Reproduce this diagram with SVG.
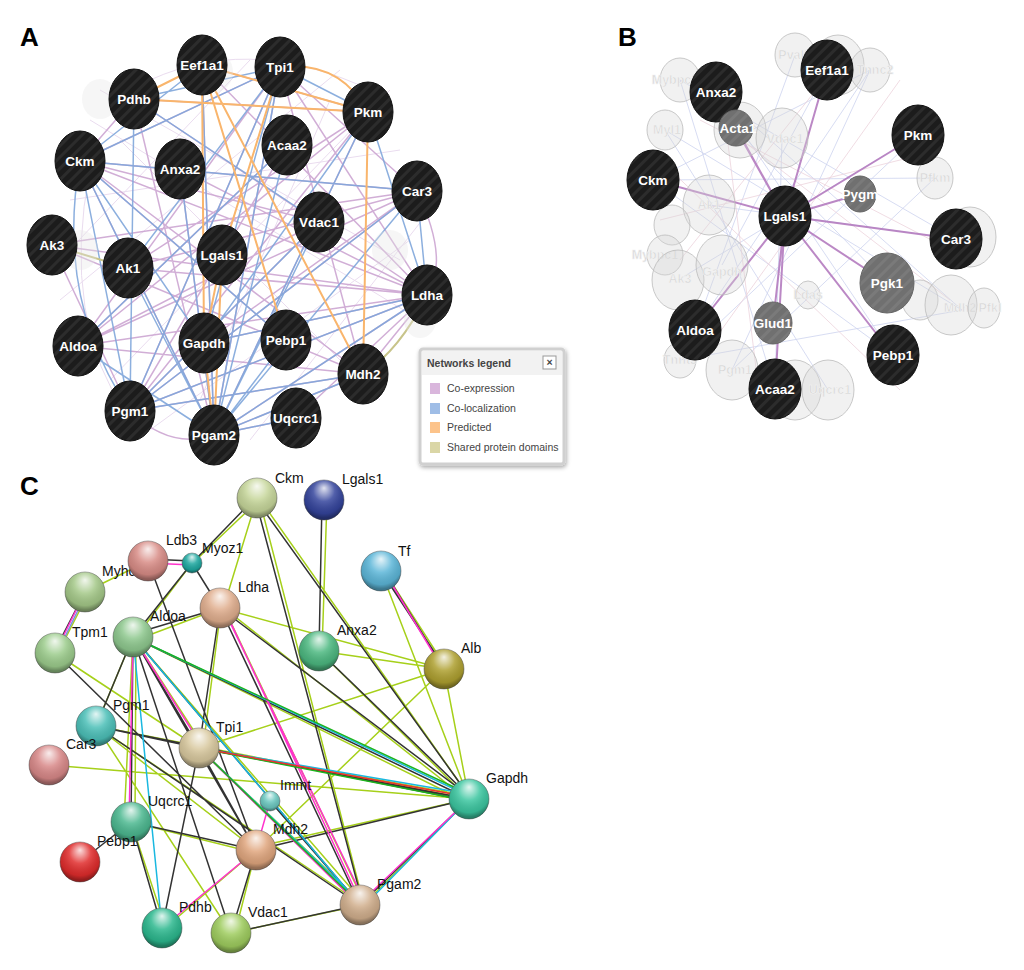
<svg xmlns="http://www.w3.org/2000/svg" width="1024" height="970" viewBox="0 0 1024 970">
<defs>
<pattern id="str" width="8" height="8" patternUnits="userSpaceOnUse" patternTransform="rotate(45)">
<rect width="8" height="8" fill="#1c1c1c"/><rect width="3" height="8" fill="#2c2c2c"/>
</pattern>
<pattern id="strg" width="8" height="8" patternUnits="userSpaceOnUse" patternTransform="rotate(45)">
<rect width="8" height="8" fill="#707070"/><rect width="3" height="8" fill="#7a7a7a"/>
</pattern>
<radialGradient id="shine" cx="50%" cy="35%" r="60%" fx="50%" fy="20%">
<stop offset="0" stop-color="#fff" stop-opacity="0.85"/>
<stop offset="0.45" stop-color="#fff" stop-opacity="0.15"/>
<stop offset="0.85" stop-color="#000" stop-opacity="0.1"/>
<stop offset="1" stop-color="#000" stop-opacity="0.35"/>
</radialGradient>
<filter id="sh" x="-10%" y="-10%" width="130%" height="130%"><feDropShadow dx="1" dy="2" stdDeviation="2" flood-opacity="0.35"/></filter>
</defs>
<style>
.lab{font-family:"Liberation Sans",Arial,sans-serif;font-size:26px;font-weight:bold;fill:#000}
.nt{font-family:"Liberation Sans",Arial,sans-serif;font-size:13.5px;font-weight:bold;fill:#fff;text-anchor:middle;dominant-baseline:central}
.gt{font-family:"Liberation Sans",Arial,sans-serif;font-size:12.5px;font-weight:bold;fill:#d6d6d6;stroke:#f4f4f4;stroke-width:0.6;text-anchor:middle;dominant-baseline:central}
.bn{fill:url(#str);stroke:#111;stroke-width:1}
.gn{fill:#d8d8d8;fill-opacity:0.35;stroke:#bbb;stroke-opacity:0.8;stroke-width:1}
.gy{fill:url(#strg);stroke:#666;stroke-width:1}
.lt{font-family:"Liberation Sans",Arial,sans-serif;font-size:10.5px;fill:#444}
.ct{font-family:"Liberation Sans",Arial,sans-serif;font-size:14px;fill:#111}
.ball{stroke:#555;stroke-opacity:0.5;stroke-width:1}
.sh{fill:url(#shine)}
.e{fill:none}
</style>
<rect width="1024" height="970" fill="#fff"/>
<text class="lab" x="20" y="46">A</text>
<text class="lab" x="618" y="46">B</text>
<text class="lab" x="20" y="495">C</text>

<g id="connectors">
<path class="e" stroke="#eadcef" stroke-width="1" d="M100 90 L400 260 M90 120 L420 320 M70 200 L400 150 M110 380 L390 90 M60 300 L340 70 M150 430 L410 240 M200 400 L330 100 M120 140 L380 400 M60 260 L250 60 M250 440 L430 210 M90 170 Q60 320 130 420 M150 80 Q260 30 390 100"/>
<path class="e" stroke="#c9a0cf" stroke-width="1.5" stroke-opacity="0.85" d="M280 67 L80 161 M280 67 L78 346 M280 67 L130 411 M280 67 L214 435 M280 67 L363 374 M280 67 L427 295 M280 67 L417 191 M202 65 L368 112 M202 65 L427 295 M202 65 L214 435 M134 99 L368 112 M134 99 L427 295 M134 99 L214 435 M368 112 L78 346 M368 112 L130 411 M368 112 L214 435 M368 112 L128 268 M80 161 L427 295 M80 161 L363 374 M80 161 L214 435 M80 161 L417 191 M80 161 L319 222 M180 169 L427 295 M180 169 L214 435 M417 191 L78 346 M417 191 L130 411 M417 191 L128 268 M417 191 L204 343 M427 295 L130 411 M427 295 L78 346 M427 295 L214 435 M427 295 L52 245 M52 245 L363 374 M52 245 L417 191 M78 346 L363 374 M130 411 L363 374 M214 435 L363 374 M214 435 L296 418 M287 145 L78 346 M287 145 L130 411 M319 222 L78 346 M319 222 L130 411 M128 268 L427 295 M204 343 L427 295 M286 340 L80 161 M130 411 Q170 450 214 435 M52 245 L130 411 M363 374 L427 295 M417 191 Q450 260 427 295 M80 161 L134 99 M296 418 L427 295"/>
<path class="e" stroke="#7fa6da" stroke-width="1.5" stroke-opacity="0.9" d="M280 67 L80 161 M280 67 L134 99 M280 67 L128 268 M280 67 L204 343 M280 67 L130 411 M280 67 L214 435 M280 67 L368 112 M202 65 L80 161 M202 65 L214 435 M134 99 L130 411 M134 99 L319 222 M80 161 L214 435 M80 161 L204 343 M80 161 L130 411 M80 161 L417 191 M80 161 L286 340 M417 191 L214 435 M417 191 L130 411 M417 191 L427 295 M427 295 L214 435 M427 295 L204 343 M427 295 L130 411 M287 145 L214 435 M287 145 L78 346 M319 222 L214 435 M319 222 L130 411 M368 112 L204 343 M368 112 L214 435 M128 268 L214 435 M78 346 L214 435 M80 161 Q55 300 130 411 M363 374 L214 435 M363 374 L130 411 M286 340 L214 435 M180 169 L214 435 M296 418 L214 435 M368 112 L427 295"/>
<path class="e" stroke="#f9b56c" stroke-width="2" d="M134 99 L202 65 M134 99 L368 112 M202 65 L368 112 M280 67 Q340 60 368 112 M202 65 L204 343 M202 65 L286 340 M202 65 L363 374 M280 67 L222 255 M368 112 L363 374 M222 255 L214 435 M204 343 L214 435 M222 255 L204 343"/>
<path class="e" stroke="#c8c48a" stroke-width="2" d="M52 245 L128 268 M427 295 Q400 350 363 374"/>
<path class="e" stroke="#cdd3ef" stroke-width="1" stroke-opacity="0.8" d="M680 80 L956 239 M665 130 L962 310 M716 92 L893 355 M653 180 L935 178 M678 280 L918 135 M695 330 L870 70 M732 370 L870 70 M828 390 L665 130 M775 389 L680 80 M962 310 L680 360 M709 205 L956 239 M722 265 L827 70 M795 55 L695 330 M680 360 L918 135 M653 180 L893 355 M736 129 L887 283 M782 138 L775 389 M962 310 L716 92 M870 70 L653 180 M935 178 L732 370"/>
<path class="e" stroke="#ecd3dc" stroke-width="1" stroke-opacity="0.8" d="M690 100 L950 300 M660 220 L940 150 M700 360 L900 80 M760 400 L720 80 M840 60 L680 260 M660 160 L900 390 M700 120 L970 260"/>
<path class="e" stroke="#b47bbf" stroke-width="2" stroke-opacity="0.9" d="M785 216 L716 92 M785 216 L827 70 M785 216 L918 135 M785 216 L653 180 M785 216 L860 194 M785 216 L956 239 M785 216 L887 283 M785 216 L893 355 M785 216 L773 323 M785 216 L695 330 M785 216 L775 389 M785 216 L736 129"/>
<g fill="none" stroke-width="1.5">
<path stroke="#a6d01a" d="M261 498 L196 560 M257 498 L224 606 M259 498 L364 905 M259 498 L471 799 M327 500 L322 651 M384 571 L447 669 M148 561 L85 592 M89 592 L58 653 M192 563 L136 637 M221 608 L136 640 M221 608 L203 748 M224 608 L364 902 M224 608 L469 801 M220 608 L444 669 M319 651 L444 669 M319 651 L469 799 M133 637 L469 803 M133 637 L203 745 M133 637 L363 902 M133 637 L96 726 M136 637 L135 822 M55 653 L199 748 M96 726 L469 799 M96 726 L256 850 M49 765 L469 799 M199 748 L444 669 M199 748 L469 796 M199 748 L364 905 M444 669 L256 850 M444 669 L469 799 M469 799 L256 847 M131 822 L256 853 M131 822 L166 928 M256 850 L165 928 M256 850 L235 933 M231 933 L362 905 M96 726 L231 933 M469 799 L360 908 M96 726 L360 903 M381 571 L469 799 M133 637 L124 822"/>
<path stroke="#333" d="M255 498 L192 563 M255 498 L364 908 M255 498 L469 796 M322 500 L319 651 M381 571 L444 667 M148 559 L192 561 M85 592 L55 650 M192 563 L133 637 M192 563 L220 608 M148 561 L256 850 M220 608 L133 634 M220 608 L199 748 M220 608 L360 905 M220 608 L469 796 M319 651 L469 796 M133 637 L469 799 M133 637 L199 748 M133 637 L360 905 M133 637 L131 822 M133 637 L231 933 M133 637 L256 850 M55 653 L256 850 M96 726 L199 748 M96 726 L360 905 M199 748 L469 799 M199 748 L360 905 M199 748 L256 850 M270 801 L360 905 M469 799 L360 905 M469 799 L256 850 M131 822 L256 850 M131 822 L162 928 M131 822 L80 862 M256 850 L231 933 M231 933 L360 905 M96 726 L469 801 M384 571 L444 669 M199 748 L162 928 M133 637 L96 726"/>
<path stroke="#19b8e0" d="M133 637 L469 796 M133 637 L360 905 M133 637 L162 928 M199 748 L469 794 M199 748 L360 902 M469 799 L362 908"/>
<path stroke="#ff33cc" d="M148 563 L192 565 M85 592 L55 653 M384 571 L444 671 M224 608 L362 905 M133 637 L203 748 M199 748 L362 908 M270 801 L256 850 M469 799 L358 905 M256 850 L162 928 M133 637 L129 822 M223 608 L364 900"/>
<path stroke="#7a8ae0" d="M87 592 L57 653"/>
<path stroke="#1db31d" d="M133 637 L469 794 M199 748 L469 801 M199 748 L364 908"/>
<path stroke="#ee3030" d="M199 748 L469 797"/>
</g>
</g>

<g id="panelA-nodes">
<g id="A-ghosts" fill="#e4e4e4" fill-opacity="0.35">
<ellipse cx="215" cy="72" rx="18" ry="20"/><ellipse cx="100" cy="99" rx="18" ry="20"/><ellipse cx="80" cy="250" rx="18" ry="20"/><ellipse cx="390" cy="250" rx="18" ry="20"/><ellipse cx="420" cy="320" rx="16" ry="18"/>
</g>
<g id="nA-Eef1a1"><ellipse class="bn" cx="202" cy="65" rx="25" ry="30"/><text class="nt" x="202" y="65">Eef1a1</text></g>
<g id="nA-Tpi1"><ellipse class="bn" cx="280" cy="67" rx="25" ry="30"/><text class="nt" x="280" y="67">Tpi1</text></g>
<g id="nA-Pdhb"><ellipse class="bn" cx="134" cy="99" rx="25" ry="30"/><text class="nt" x="134" y="99">Pdhb</text></g>
<g id="nA-Pkm"><ellipse class="bn" cx="368" cy="112" rx="25" ry="30"/><text class="nt" x="368" y="112">Pkm</text></g>
<g id="nA-Acaa2"><ellipse class="bn" cx="287" cy="145" rx="25" ry="30"/><text class="nt" x="287" y="145">Acaa2</text></g>
<g id="nA-Ckm"><ellipse class="bn" cx="80" cy="161" rx="25" ry="30"/><text class="nt" x="80" y="161">Ckm</text></g>
<g id="nA-Anxa2"><ellipse class="bn" cx="180" cy="169" rx="25" ry="30"/><text class="nt" x="180" y="169">Anxa2</text></g>
<g id="nA-Car3"><ellipse class="bn" cx="417" cy="191" rx="25" ry="30"/><text class="nt" x="417" y="191">Car3</text></g>
<g id="nA-Vdac1"><ellipse class="bn" cx="319" cy="222" rx="25" ry="30"/><text class="nt" x="319" y="222">Vdac1</text></g>
<g id="nA-Ak3"><ellipse class="bn" cx="52" cy="245" rx="25" ry="30"/><text class="nt" x="52" y="245">Ak3</text></g>
<g id="nA-Ak1"><ellipse class="bn" cx="128" cy="268" rx="25" ry="30"/><text class="nt" x="128" y="268">Ak1</text></g>
<g id="nA-Lgals1"><ellipse class="bn" cx="222" cy="255" rx="25" ry="30"/><text class="nt" x="222" y="255">Lgals1</text></g>
<g id="nA-Ldha"><ellipse class="bn" cx="427" cy="295" rx="25" ry="30"/><text class="nt" x="427" y="295">Ldha</text></g>
<g id="nA-Aldoa"><ellipse class="bn" cx="78" cy="346" rx="25" ry="30"/><text class="nt" x="78" y="346">Aldoa</text></g>
<g id="nA-Gapdh"><ellipse class="bn" cx="204" cy="343" rx="25" ry="30"/><text class="nt" x="204" y="343">Gapdh</text></g>
<g id="nA-Pebp1"><ellipse class="bn" cx="286" cy="340" rx="25" ry="30"/><text class="nt" x="286" y="340">Pebp1</text></g>
<g id="nA-Mdh2"><ellipse class="bn" cx="363" cy="374" rx="25" ry="30"/><text class="nt" x="363" y="374">Mdh2</text></g>
<g id="nA-Pgm1"><ellipse class="bn" cx="130" cy="411" rx="25" ry="30"/><text class="nt" x="130" y="411">Pgm1</text></g>
<g id="nA-Pgam2"><ellipse class="bn" cx="214" cy="435" rx="25" ry="30"/><text class="nt" x="214" y="435">Pgam2</text></g>
<g id="nA-Uqcrc1"><ellipse class="bn" cx="296" cy="418" rx="25" ry="30"/><text class="nt" x="296" y="418">Uqcrc1</text></g>
</g>

<g id="legend">
<rect x="420" y="349" width="144" height="115" rx="3" fill="#fff" stroke="#d0d0d0" stroke-width="3" filter="url(#sh)"/>
<rect x="422" y="351" width="140" height="24" fill="#f2f2f2"/>
<text class="lt" x="427" y="367" font-weight="bold" fill="#555">Networks legend</text>
<rect x="543" y="356" width="13" height="13" fill="#fff" stroke="#999"/>
<text class="lt" x="549.5" y="366" text-anchor="middle" font-weight="bold" font-size="10px">×</text>
<rect x="430" y="383" width="10" height="11" fill="#d9b6dc"/><text class="lt" x="447" y="392">Co-expression</text>
<rect x="430" y="403" width="10" height="11" fill="#9fbde6"/><text class="lt" x="447" y="412">Co-localization</text>
<rect x="430" y="422" width="10" height="11" fill="#fcc38a"/><text class="lt" x="447" y="431">Predicted</text>
<rect x="430" y="442" width="10" height="11" fill="#dad6a6"/><text class="lt" x="447" y="451">Shared protein domains</text>
</g>

<g id="panelB-nodes">
<g id="B-ghosts">
<ellipse class="gn" cx="795" cy="55" rx="20" ry="22"/><text class="gt" x="795" y="55">Pvalb</text>
<ellipse class="gn" cx="838" cy="65" rx="26" ry="30"/>
<ellipse class="gn" cx="870" cy="70" rx="20" ry="22"/><text class="gt" x="875" y="70">Tnnc2</text>
<ellipse class="gn" cx="680" cy="80" rx="20" ry="22"/><text class="gt" x="675" y="80">Mybpc2</text>
<ellipse class="gn" cx="665" cy="130" rx="18" ry="20"/><text class="gt" x="667" y="130">Myl1</text>
<ellipse class="gn" cx="740" cy="130" rx="26" ry="28"/>
<ellipse class="gn" cx="782" cy="138" rx="26" ry="30"/><text class="gt" x="785" y="139">Vdac1</text>
<ellipse class="gn" cx="935" cy="178" rx="18" ry="21"/><text class="gt" x="935" y="178">Pfkm</text>
<ellipse class="gn" cx="709" cy="205" rx="26" ry="30"/><text class="gt" x="709" y="205">Ak1</text>
<ellipse class="gn" cx="672" cy="225" rx="18" ry="20"/>
<ellipse class="gn" cx="665" cy="255" rx="18" ry="20"/><text class="gt" x="655" y="255">Mybpc1</text>
<ellipse class="gn" cx="678" cy="280" rx="26" ry="30"/><text class="gt" x="680" y="279">Ak3</text>
<ellipse class="gn" cx="722" cy="265" rx="26" ry="30"/><text class="gt" x="722" y="272">Gapdh</text>
<ellipse class="gn" cx="970" cy="237" rx="26" ry="30"/>
<ellipse class="gn" cx="920" cy="300" rx="18" ry="20"/>
<ellipse class="gn" cx="951" cy="305" rx="26" ry="30"/><text class="gt" x="960" y="308">Mdh2</text>
<ellipse class="gn" cx="984" cy="308" rx="16" ry="20"/><text class="gt" x="990" y="308">Pfkl</text>
<ellipse class="gn" cx="808" cy="295" rx="12" ry="14"/><text class="gt" x="808" y="295">Ldas</text>
<ellipse class="gn" cx="680" cy="360" rx="16" ry="18"/><text class="gt" x="680" y="360">Tnnt3</text>
<ellipse class="gn" cx="732" cy="370" rx="26" ry="30"/><text class="gt" x="735" y="370">Pgm1</text>
<ellipse class="gn" cx="795" cy="390" rx="26" ry="30"/>
<ellipse class="gn" cx="828" cy="390" rx="26" ry="30"/><text class="gt" x="830" y="390">Uqcrc1</text>
</g>
<g id="nB-Eef1a1"><ellipse class="bn" cx="827" cy="70" rx="26" ry="30"/><text class="nt" x="827" y="70">Eef1a1</text></g>
<g id="nB-Anxa2"><ellipse class="bn" cx="716" cy="92" rx="26" ry="30"/><text class="nt" x="716" y="92">Anxa2</text></g>
<g id="nB-Pkm"><ellipse class="bn" cx="918" cy="135" rx="26" ry="30"/><text class="nt" x="918" y="135">Pkm</text></g>
<g id="nB-Acta1"><ellipse class="gy" cx="736" cy="128" rx="17" ry="18"/><text class="nt" x="738" y="128">Acta1</text></g>
<g id="nB-Ckm"><ellipse class="bn" cx="653" cy="180" rx="26" ry="30"/><text class="nt" x="653" y="180">Ckm</text></g>
<g id="nB-Pygm"><ellipse class="gy" cx="860" cy="194" rx="16" ry="18"/><text class="nt" x="860" y="194">Pygm</text></g>
<g id="nB-Lgals1"><ellipse class="bn" cx="785" cy="216" rx="26" ry="30" stroke="#5fd3ee" stroke-width="3"/><text class="nt" x="785" y="216">Lgals1</text></g>
<g id="nB-Car3"><ellipse class="bn" cx="956" cy="239" rx="26" ry="30"/><text class="nt" x="956" y="239">Car3</text></g>
<g id="nB-Pgk1"><ellipse class="gy" cx="887" cy="283" rx="27" ry="30"/><text class="nt" x="887" y="283">Pgk1</text></g>
<g id="nB-Glud1"><ellipse class="gy" cx="773" cy="323" rx="19" ry="21"/><text class="nt" x="773" y="323">Glud1</text></g>
<g id="nB-Aldoa"><ellipse class="bn" cx="695" cy="330" rx="26" ry="30"/><text class="nt" x="695" y="330">Aldoa</text></g>
<g id="nB-Pebp1"><ellipse class="bn" cx="893" cy="355" rx="26" ry="30"/><text class="nt" x="893" y="355">Pebp1</text></g>
<g id="nB-Acaa2"><ellipse class="bn" cx="775" cy="389" rx="26" ry="30"/><text class="nt" x="775" y="389">Acaa2</text></g>
</g>

<g id="panelC-nodes">
<g id="nC-Ckm"><circle class="ball" cx="257" cy="498" r="20" fill="#c6d69a"/><circle class="sh" cx="257" cy="498" r="20"/><text class="ct" x="275" y="483">Ckm</text></g>
<g id="nC-Lgals1"><circle class="ball" cx="324" cy="500" r="20" fill="#34449c"/><circle class="sh" cx="324" cy="500" r="20"/><text class="ct" x="342" y="484">Lgals1</text></g>
<g id="nC-Myhc"><circle class="ball" cx="85" cy="592" r="20" fill="#a4c888"/><circle class="sh" cx="85" cy="592" r="20"/><text class="ct" x="102" y="576">Myhc</text></g>
<g id="nC-Ldb3"><circle class="ball" cx="148" cy="561" r="20" fill="#d88c86"/><circle class="sh" cx="148" cy="561" r="20"/><text class="ct" x="166" y="545">Ldb3</text></g>
<g id="nC-Myoz1"><circle class="ball" cx="192" cy="563" r="10" fill="#1ea8a0"/><circle class="sh" cx="192" cy="563" r="10"/><text class="ct" x="202" y="553">Myoz1</text></g>
<g id="nC-Tf"><circle class="ball" cx="381" cy="571" r="20" fill="#5cb6d8"/><circle class="sh" cx="381" cy="571" r="20"/><text class="ct" x="398" y="556">Tf</text></g>
<g id="nC-Ldha"><circle class="ball" cx="220" cy="608" r="20" fill="#e0ae8e"/><circle class="sh" cx="220" cy="608" r="20"/><text class="ct" x="238" y="592">Ldha</text></g>
<g id="nC-Aldoa"><circle class="ball" cx="133" cy="637" r="20" fill="#8ec88e"/><circle class="sh" cx="133" cy="637" r="20"/><text class="ct" x="150" y="621">Aldoa</text></g>
<g id="nC-Tpm1"><circle class="ball" cx="55" cy="653" r="20" fill="#9ccc8c"/><circle class="sh" cx="55" cy="653" r="20"/><text class="ct" x="72" y="637">Tpm1</text></g>
<g id="nC-Anxa2"><circle class="ball" cx="319" cy="651" r="20" fill="#4cb880"/><circle class="sh" cx="319" cy="651" r="20"/><text class="ct" x="337" y="635">Anxa2</text></g>
<g id="nC-Alb"><circle class="ball" cx="444" cy="669" r="20" fill="#aea030"/><circle class="sh" cx="444" cy="669" r="20"/><text class="ct" x="461" y="653">Alb</text></g>
<g id="nC-Pgm1"><circle class="ball" cx="96" cy="726" r="20" fill="#4cc0b8"/><circle class="sh" cx="96" cy="726" r="20"/><text class="ct" x="113" y="710">Pgm1</text></g>
<g id="nC-Tpi1"><circle class="ball" cx="199" cy="748" r="20" fill="#d8c89e"/><circle class="sh" cx="199" cy="748" r="20"/><text class="ct" x="216" y="732">Tpi1</text></g>
<g id="nC-Car3"><circle class="ball" cx="49" cy="765" r="20" fill="#d88888"/><circle class="sh" cx="49" cy="765" r="20"/><text class="ct" x="66" y="749">Car3</text></g>
<g id="nC-Gapdh"><circle class="ball" cx="469" cy="799" r="20" fill="#3cc6a0"/><circle class="sh" cx="469" cy="799" r="20"/><text class="ct" x="486" y="783">Gapdh</text></g>
<g id="nC-Immt"><circle class="ball" cx="270" cy="801" r="10" fill="#6cc8c0"/><circle class="sh" cx="270" cy="801" r="10"/><text class="ct" x="280" y="790">Immt</text></g>
<g id="nC-Uqcrc1"><circle class="ball" cx="131" cy="822" r="20" fill="#4cb890"/><circle class="sh" cx="131" cy="822" r="20"/><text class="ct" x="148" y="806">Uqcrc1</text></g>
<g id="nC-Mdh2"><circle class="ball" cx="256" cy="850" r="20" fill="#e0a67e"/><circle class="sh" cx="256" cy="850" r="20"/><text class="ct" x="273" y="834">Mdh2</text></g>
<g id="nC-Pebp1"><circle class="ball" cx="80" cy="862" r="20" fill="#e02c2c"/><circle class="sh" cx="80" cy="862" r="20"/><text class="ct" x="97" y="846">Pebp1</text></g>
<g id="nC-Pgam2"><circle class="ball" cx="360" cy="905" r="20" fill="#d0ae8c"/><circle class="sh" cx="360" cy="905" r="20"/><text class="ct" x="377" y="889">Pgam2</text></g>
<g id="nC-Pdhb"><circle class="ball" cx="162" cy="928" r="20" fill="#2cb88e"/><circle class="sh" cx="162" cy="928" r="20"/><text class="ct" x="179" y="912">Pdhb</text></g>
<g id="nC-Vdac1"><circle class="ball" cx="231" cy="933" r="20" fill="#9ecc5e"/><circle class="sh" cx="231" cy="933" r="20"/><text class="ct" x="248" y="917">Vdac1</text></g>
</g>
</svg>
